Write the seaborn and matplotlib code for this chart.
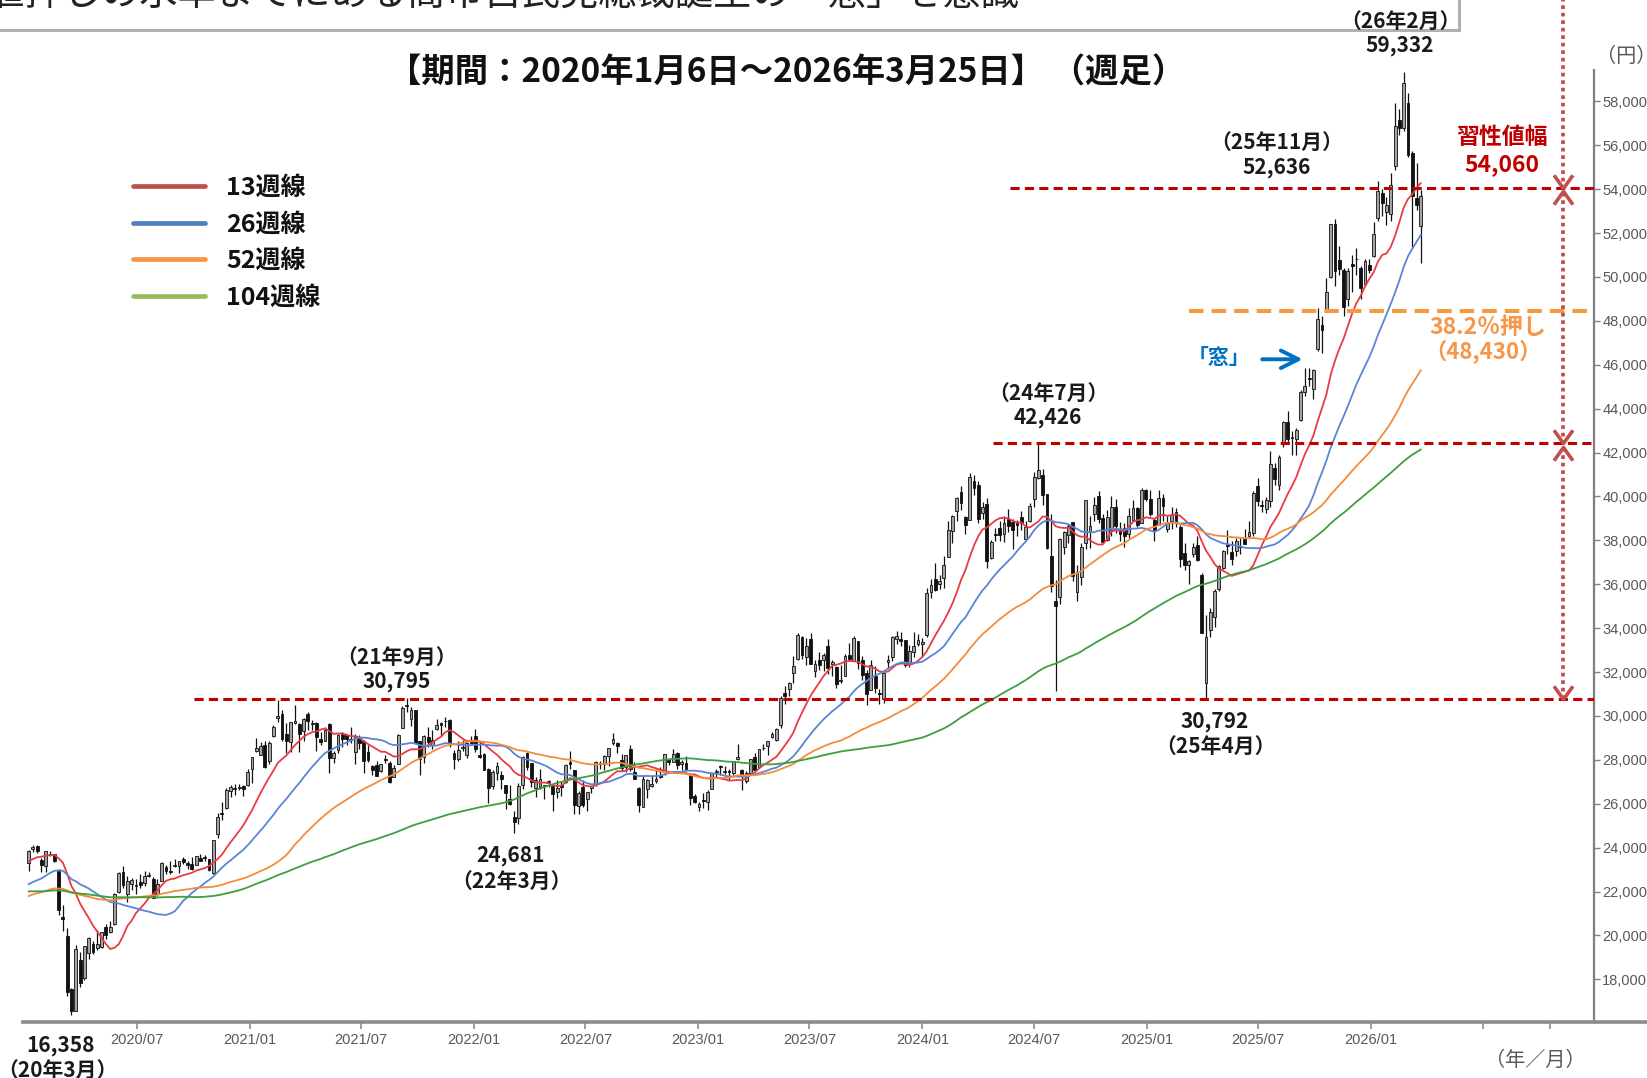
#weekly nikkei candles with 13/26/52/104 week moving averages and the hand-drawn levels

import pandas as pd
import matplotlib
matplotlib.use('Agg')
import matplotlib.pyplot as plt
import matplotlib.dates as mdates
from matplotlib.lines import Line2D
from matplotlib.patches import Rectangle
from matplotlib.path import Path
from matplotlib.ticker import FuncFormatter
import seaborn as sns

#~~~~~~~~~~~~~~~~~~~~~~~~~~~~~~~~~~~~~~~~~~~~~~~~~~~~~~~~~~~~~~~~~~~~~~~~~~~~~~~~~~~~~~~~~~~~
#data (thousand yen)
#weekly closes before the chart window, only used to warm up the moving averages
close_2018 = [23.71, 23.65, 23.81, 23.63, 23.10, 21.38, 21.72, 21.89, 21.18, 21.47, 21.68, 20.62, 21.45,
              21.57, 21.78, 22.16, 22.47, 22.47, 22.76, 22.93, 22.45, 22.17, 22.69, 22.85, 22.52, 22.30,
              21.79, 22.60, 22.70, 22.71, 22.53, 22.30, 22.27, 22.60, 22.87, 22.31, 23.09, 23.87, 24.12,
              23.78, 22.69, 22.53, 21.18, 22.24, 22.25, 21.68, 21.65, 22.35, 21.68, 21.37, 20.17, 20.01]
close_2019 = [19.56, 20.36, 20.67, 20.77, 20.79, 20.33, 20.90, 21.43, 21.60, 21.03, 21.45, 21.63, 21.21,
              21.81, 21.87, 22.20, 22.26, 21.34, 21.25, 21.12, 20.60, 20.88, 21.12, 21.26, 21.28, 21.75,
              21.69, 21.47, 21.66, 21.09, 20.68, 20.42, 20.71, 20.70, 21.20, 21.99, 22.08, 21.76, 21.41,
              21.80, 22.49, 22.80, 22.85, 23.33, 23.30, 23.11, 23.29, 23.35, 24.02, 23.82, 23.84, 23.66]

#weekly candles [open, high, low, close], first week starts 2020-01-06
first_week = '2020-01-06'
w2020 = [[23.32, 23.90, 22.95, 23.85], [23.95, 24.12, 23.82, 24.04], [24.08, 24.12, 23.75, 23.83], [23.44, 23.52, 22.89, 23.21],
         [23.16, 23.87, 22.89, 23.83], [23.68, 23.86, 23.62, 23.69], [23.69, 23.71, 23.33, 23.39], [22.94, 23.02, 20.92, 21.14],
         [20.85, 21.40, 20.22, 20.75], [19.96, 20.35, 17.22, 17.43], [17.56, 17.60, 16.36, 16.55], [16.57, 19.56, 16.55, 19.39],
         [18.88, 19.23, 17.65, 17.82], [18.07, 19.53, 17.98, 19.50], [19.22, 19.92, 18.91, 19.90], [19.61, 19.73, 19.14, 19.26],
         [19.41, 20.26, 19.36, 19.62], [19.47, 20.18, 19.45, 20.18], [20.37, 20.53, 19.82, 20.04], [20.16, 20.64, 20.11, 20.39],
         [20.50, 21.95, 20.49, 21.88], [22.00, 22.90, 21.95, 22.86], [22.89, 23.18, 22.17, 22.31], [21.87, 22.72, 21.53, 22.48],
         [22.36, 22.64, 22.06, 22.51], [22.26, 22.56, 21.91, 22.31], [22.45, 22.81, 22.14, 22.29], [22.40, 22.94, 22.27, 22.70],
         [22.73, 22.89, 22.65, 22.75], [22.59, 22.66, 21.71, 21.71], [21.90, 22.56, 21.82, 22.33], [22.50, 23.34, 22.49, 23.29],
         [23.12, 23.20, 22.81, 22.92], [22.94, 23.40, 22.80, 22.88], [23.18, 23.47, 23.10, 23.21], [23.16, 23.41, 22.85, 23.41],
         [23.49, 23.58, 23.25, 23.36], [23.32, 23.38, 23.04, 23.20], [23.27, 23.59, 22.97, 23.03], [23.21, 23.62, 23.19, 23.62],
         [23.55, 23.73, 23.38, 23.41], [23.53, 23.67, 23.40, 23.52], [23.50, 23.50, 22.95, 22.98], [22.83, 24.33, 22.82, 24.33],
         [24.61, 25.56, 24.42, 25.39], [25.55, 26.06, 25.27, 25.53], [25.79, 26.71, 25.78, 26.64], [26.59, 26.87, 26.29, 26.75],
         [26.73, 26.89, 26.38, 26.65], [26.71, 26.91, 26.62, 26.76], [26.79, 26.84, 26.35, 26.66], [26.85, 27.60, 26.80, 27.44]]
w2021 = [[27.58, 28.14, 26.95, 28.14], [28.41, 28.98, 28.34, 28.52], [28.24, 28.82, 28.21, 28.63], [28.66, 28.86, 27.63, 27.66],
         [27.93, 28.85, 27.82, 28.78], [29.11, 29.58, 29.03, 29.52], [29.92, 30.71, 29.71, 30.02], [30.08, 30.29, 28.88, 28.97],
         [29.16, 29.69, 28.31, 28.86], [28.82, 29.73, 28.38, 29.72], [29.69, 30.49, 29.64, 29.79], [29.63, 29.67, 28.38, 29.18],
         [29.30, 29.90, 28.86, 29.85], [30.09, 30.17, 29.37, 29.77], [29.63, 29.82, 29.37, 29.68], [29.70, 29.71, 28.42, 29.02],
         [28.93, 29.28, 28.67, 28.81], [28.88, 29.52, 28.85, 29.36], [29.62, 29.69, 27.39, 28.08], [28.08, 28.39, 27.84, 28.32],
         [28.44, 29.19, 28.32, 29.15], [29.20, 29.27, 28.60, 28.94], [29.12, 29.18, 28.69, 28.95], [28.91, 29.48, 28.75, 28.96],
         [28.37, 29.17, 27.80, 29.07], [29.02, 29.15, 28.50, 28.78], [28.88, 28.89, 27.42, 27.94], [28.37, 28.70, 27.92, 28.00],
         [27.73, 27.75, 27.33, 27.55], [27.78, 27.97, 27.27, 27.28], [27.47, 27.82, 27.45, 27.82], [28.02, 28.20, 27.84, 27.98],
         [27.87, 27.93, 26.95, 27.01], [27.24, 27.76, 27.20, 27.64], [27.81, 29.18, 27.79, 29.13], [29.45, 30.47, 29.45, 30.38],
         [30.47, 30.80, 30.16, 30.50], [29.84, 30.41, 29.55, 30.25], [30.26, 30.27, 28.77, 28.77], [28.88, 28.88, 27.29, 28.05],
         [28.14, 29.14, 27.87, 29.07], [29.03, 29.49, 28.60, 28.80], [28.66, 29.36, 28.51, 28.89], [29.39, 29.88, 29.36, 29.61],
         [29.69, 29.72, 29.10, 29.61], [29.75, 29.96, 29.49, 29.75], [29.83, 29.86, 28.60, 28.75], [28.32, 28.45, 27.59, 28.03],
         [28.05, 28.86, 27.93, 28.44], [28.55, 28.89, 28.41, 28.55], [28.23, 28.80, 28.10, 28.78], [28.84, 29.11, 28.73, 28.79]]
w2022 = [[29.10, 29.39, 28.34, 28.48], [28.22, 28.81, 28.08, 28.12], [28.26, 28.33, 27.52, 27.52], [27.58, 27.62, 26.04, 26.72],
         [26.79, 27.55, 26.69, 27.44], [27.40, 27.88, 27.08, 27.70], [27.33, 27.48, 26.66, 27.12], [26.86, 26.87, 25.78, 26.48],
         [26.21, 26.84, 25.94, 25.99], [25.39, 25.69, 24.68, 25.16], [25.34, 26.93, 25.06, 26.83], [26.84, 28.18, 26.68, 28.15],
         [28.33, 28.34, 27.55, 27.67], [27.85, 27.86, 26.76, 26.99], [26.71, 27.21, 26.30, 27.09], [26.78, 27.58, 26.69, 27.11],
         [26.81, 26.85, 26.21, 26.85], [27.00, 27.06, 26.76, 27.00], [26.80, 26.81, 25.69, 26.43], [26.55, 27.09, 26.25, 26.74],
         [26.86, 27.04, 26.34, 26.78], [26.98, 27.83, 26.96, 27.76], [27.92, 28.39, 27.60, 27.82], [27.56, 27.56, 25.52, 25.96],
         [25.92, 26.59, 25.52, 26.49], [26.76, 27.06, 25.86, 25.94], [26.20, 26.52, 25.66, 26.52], [26.74, 26.81, 26.48, 26.79],
         [26.95, 27.96, 26.80, 27.91], [27.82, 27.95, 27.58, 27.80], [27.83, 28.20, 27.53, 28.18], [28.17, 28.55, 27.74, 28.55],
         [28.75, 29.22, 28.66, 28.93], [28.79, 28.80, 28.30, 28.64], [27.99, 28.25, 27.51, 27.65], [27.68, 28.22, 27.43, 28.21],
         [28.50, 28.67, 27.51, 27.57], [27.43, 27.88, 27.15, 27.15], [26.74, 26.78, 25.62, 25.94], [25.86, 27.31, 25.86, 27.12],
         [26.66, 27.13, 26.24, 27.09], [26.82, 27.26, 26.76, 26.89], [27.03, 27.59, 26.93, 27.11], [27.32, 27.68, 27.16, 27.20],
         [27.43, 28.26, 27.33, 28.26], [28.05, 28.06, 27.76, 27.90], [27.88, 28.50, 27.88, 28.28], [28.29, 28.38, 27.58, 27.78],
         [27.81, 27.99, 27.55, 27.90], [27.85, 28.16, 27.50, 27.53], [27.31, 27.40, 25.96, 26.24], [26.37, 26.45, 26.05, 26.09]]
w2023 = [[25.84, 26.10, 25.66, 25.97], [26.18, 26.50, 25.80, 26.12], [26.07, 26.61, 25.72, 26.55], [26.69, 27.38, 26.69, 27.38],
         [27.43, 27.58, 27.20, 27.51], [27.73, 27.75, 27.31, 27.67], [27.43, 27.70, 27.37, 27.51], [27.47, 27.60, 27.10, 27.45],
         [27.38, 27.93, 27.33, 27.93], [28.05, 28.73, 27.98, 28.14], [27.55, 27.57, 26.63, 27.33], [27.05, 27.50, 26.95, 27.39],
         [27.41, 28.06, 27.29, 28.04], [28.15, 28.31, 27.43, 27.52], [27.69, 28.51, 27.64, 28.49], [28.52, 28.74, 28.44, 28.56],
         [28.63, 28.86, 28.24, 28.86], [29.03, 29.28, 29.00, 29.16], [28.90, 29.43, 28.88, 29.39], [29.58, 30.92, 29.44, 30.81],
         [31.05, 31.35, 30.56, 30.92], [31.25, 31.56, 30.89, 31.52], [31.95, 32.71, 31.49, 32.27], [32.60, 33.77, 32.55, 33.71],
         [33.60, 33.63, 32.58, 32.78], [32.70, 33.53, 32.31, 33.19], [33.52, 33.76, 32.39, 32.39], [32.04, 32.57, 31.79, 32.39],
         [32.56, 32.90, 32.08, 32.30], [32.56, 32.86, 32.05, 32.76], [33.20, 33.49, 31.93, 32.19], [32.37, 32.55, 31.83, 32.47],
         [32.22, 32.26, 31.28, 31.45], [31.60, 32.30, 31.52, 31.62], [31.82, 32.84, 31.80, 32.71], [32.79, 33.32, 32.49, 32.61],
         [32.49, 33.63, 32.49, 33.53], [33.40, 33.40, 32.16, 32.40], [32.56, 32.73, 31.63, 31.86], [31.97, 32.08, 30.49, 30.99],
         [31.20, 32.53, 31.20, 32.32], [31.81, 32.26, 31.06, 31.26], [31.04, 31.24, 30.55, 30.99], [30.77, 32.00, 30.61, 31.95],
         [32.45, 32.77, 32.17, 32.57], [32.69, 33.63, 32.49, 33.59], [33.49, 33.85, 33.27, 33.63], [33.52, 33.81, 33.21, 33.43],
         [33.46, 33.47, 32.21, 32.31], [32.40, 33.24, 32.21, 32.97], [32.90, 33.82, 32.70, 33.17], [33.27, 33.75, 33.20, 33.46]]
w2024 = [[33.29, 33.57, 32.69, 33.38], [33.70, 35.84, 33.60, 35.58], [35.63, 36.24, 35.37, 35.96], [36.22, 36.98, 35.71, 35.75],
         [36.00, 36.44, 35.80, 36.16], [36.30, 37.29, 35.85, 36.90], [37.25, 38.86, 37.22, 38.49], [38.44, 39.16, 37.88, 39.10],
         [39.34, 39.99, 38.88, 39.91], [40.20, 40.47, 39.37, 39.69], [39.07, 39.10, 38.27, 38.71], [38.94, 41.09, 38.93, 40.89],
         [40.69, 40.98, 40.08, 40.37], [40.52, 40.70, 38.77, 38.99], [39.24, 39.77, 38.99, 39.52], [39.67, 39.94, 36.73, 37.07],
         [37.18, 38.01, 37.17, 37.93], [38.29, 38.55, 37.95, 38.24], [38.56, 38.86, 37.96, 38.23], [38.28, 39.12, 37.93, 38.79],
         [38.96, 39.44, 38.37, 38.65], [38.83, 38.96, 37.62, 38.49], [38.84, 38.92, 38.22, 38.68], [39.07, 39.33, 38.45, 38.81],
         [38.05, 38.86, 38.01, 38.60], [38.89, 39.71, 38.83, 39.58], [39.89, 41.11, 39.51, 40.91], [40.84, 42.43, 40.80, 41.19],
         [41.00, 41.27, 39.60, 40.06], [40.09, 40.10, 37.61, 37.67], [37.31, 39.19, 35.66, 35.91], [35.25, 36.20, 31.16, 35.03],
         [35.40, 38.13, 35.09, 38.06], [37.72, 38.42, 37.38, 38.36], [38.25, 38.74, 37.88, 38.65], [38.83, 38.83, 36.17, 36.39],
         [35.63, 36.87, 35.25, 36.58], [36.35, 37.88, 35.95, 37.72], [37.88, 39.83, 37.61, 39.83], [38.40, 39.10, 37.65, 38.64],
         [39.18, 39.98, 38.90, 39.61], [40.00, 40.26, 38.80, 38.98], [39.00, 39.19, 37.91, 37.91], [38.00, 39.38, 37.95, 39.08],
         [38.47, 40.00, 38.18, 39.50], [39.51, 39.88, 38.32, 38.64], [38.45, 38.82, 37.96, 38.28], [38.56, 38.81, 37.68, 38.21],
         [38.30, 39.48, 38.10, 39.09], [38.95, 39.85, 38.90, 39.47], [39.46, 39.50, 38.60, 38.70], [38.80, 40.40, 38.78, 40.28],
         [40.30, 40.33, 39.79, 39.89]]
w2025 = [[39.88, 40.29, 39.10, 39.19], [38.95, 39.00, 37.97, 38.45], [38.72, 40.28, 38.68, 39.93], [39.95, 40.09, 38.90, 39.57],
         [38.52, 39.10, 38.40, 38.79], [38.90, 39.50, 38.50, 39.15], [39.27, 39.48, 38.60, 38.78], [38.60, 38.68, 36.80, 37.16],
         [37.41, 37.89, 36.64, 36.89], [36.88, 37.10, 35.99, 37.05], [37.36, 37.90, 37.25, 37.68], [37.80, 38.22, 37.05, 37.12],
         [36.40, 36.50, 33.78, 33.78], [31.50, 34.60, 30.79, 33.59], [33.90, 34.92, 33.62, 34.73], [34.50, 35.80, 34.05, 35.71],
         [35.80, 36.90, 35.70, 36.83], [36.75, 37.55, 36.70, 37.50], [37.80, 38.49, 37.39, 37.75], [37.48, 37.97, 36.86, 37.16],
         [37.53, 38.12, 37.29, 37.97], [37.70, 38.13, 37.37, 37.74], [38.05, 38.53, 37.82, 37.83], [38.20, 38.89, 38.16, 38.40],
         [38.35, 40.27, 38.20, 40.15], [40.47, 40.85, 39.57, 39.81], [39.60, 39.85, 39.30, 39.57], [39.45, 39.98, 39.26, 39.82],
         [39.80, 42.07, 39.54, 41.46], [41.30, 41.53, 40.50, 40.80], [40.50, 41.90, 40.30, 41.82], [42.40, 43.45, 42.25, 43.38],
         [43.40, 43.88, 42.40, 42.63], [42.65, 43.00, 41.88, 42.72], [42.60, 43.13, 41.90, 43.02], [43.50, 44.85, 43.45, 44.77],
         [44.75, 45.85, 44.60, 45.05], [45.40, 45.85, 45.05, 45.35], [44.90, 45.80, 44.42, 45.77], [46.70, 48.60, 46.65, 48.09],
         [47.80, 48.20, 46.54, 47.58], [48.50, 49.94, 48.40, 49.30], [50.00, 52.41, 49.95, 52.41], [52.40, 52.64, 49.60, 50.28],
         [50.76, 51.40, 50.10, 50.38], [50.30, 50.40, 48.23, 48.63], [49.00, 50.40, 48.70, 50.25], [50.60, 51.00, 49.30, 50.49],
         [50.80, 51.30, 50.10, 50.84], [50.40, 50.50, 49.00, 49.51], [49.70, 50.80, 49.60, 50.75], [50.55, 50.80, 50.20, 50.34]]
w2026 = [[50.95, 52.50, 50.90, 51.94], [52.68, 54.36, 52.55, 53.90], [53.82, 54.00, 52.80, 53.36], [52.96, 53.66, 52.36, 53.26],
         [52.86, 54.74, 52.56, 54.20], [55.04, 57.94, 54.86, 56.87], [57.16, 57.66, 56.46, 56.79], [56.79, 59.33, 56.66, 58.85],
         [57.93, 58.36, 55.46, 55.57], [55.65, 55.76, 51.38, 53.67], [53.59, 55.19, 53.06, 53.29], [52.30, 53.97, 50.62, 53.67]]

ma_weeks = [13, 26, 52, 104]
ma_labels = ['13週線', '26週線', '52週線', '104週線']
ma_line_colors = ['#ea3b45', '#5b84d6', '#f58b3c', '#3f9e3f']
legend_colors = ['#c0504d', '#4f81bd', '#f79646', '#9bbb59']

#hand drawn levels on the chart (yen)
high_2109 = 30795
low_2504 = 30792
high_2407 = 42426
high_2511 = 52636
high_2602 = 59332
low_2003 = 16358
low_2203 = 24681
habit_width = 54060
retrace_382 = 48430

#~~~~~~~~~~~~~~~~~~~~~~~~~~~~~~~~~~~~~~~~~~~~~~~~~~~~~~~~~~~~~~~~~~~~~~~~~~~~~~~~~~~~~~~~~~~~
#build frame + moving averages
df = pd.DataFrame(w2020 + w2021 + w2022 + w2023 + w2024 + w2025 + w2026,
                  columns=['open', 'high', 'low', 'close']) * 1000
df['date'] = pd.date_range(first_week, periods=len(df), freq='W-MON')
closes = pd.concat([pd.Series(close_2018 + close_2019) * 1000, df['close']], ignore_index=True)
for n, lab in zip(ma_weeks, ma_labels):
    df[lab] = closes.rolling(n).mean().iloc[-len(df):].to_numpy()
ma_long = df.melt(id_vars='date', value_vars=ma_labels, var_name='line', value_name='price')

#~~~~~~~~~~~~~~~~~~~~~~~~~~~~~~~~~~~~~~~~~~~~~~~~~~~~~~~~~~~~~~~~~~~~~~~~~~~~~~~~~~~~~~~~~~~~
sns.set_theme(style='white')
plt.rcParams['font.family'] = ['Noto Sans CJK JP', 'DejaVu Sans']

W, H = 1647, 1078
def fx(x):
    return x / W
def fy(y):
    return 1 - y / H

fig = plt.figure(figsize=(W / 100, H / 100), dpi=100)
ax = fig.add_axes([fx(23), fy(1021.5), fx(1594 - 23), (1021.5 - 70) / H])

#candles
up = df['close'] >= df['open']
ax.vlines(df['date'], df['low'], df['high'], color='#111111', lw=0.9, zorder=2)
for mask, face in [(up, '#a3a3a3'), (~up, '#111111')]:
    d = df[mask]
    body = (d['close'] - d['open']).abs().clip(lower=40)
    ax.bar(d['date'], body, bottom=d[['open', 'close']].min(axis=1), width=4.6,
           color=face, edgecolor='#111111', linewidth=0.6, zorder=3)

sns.lineplot(data=ma_long, x='date', y='price', hue='line', hue_order=ma_labels,
             palette=dict(zip(ma_labels, ma_line_colors)), linewidth=1.3, legend=False, ax=ax, zorder=4)
ax.set_xlabel('')
ax.set_ylabel('')

xmin, xmax = pd.Timestamp('2019-12-28'), pd.Timestamp('2026-12-30')
ax.set_xlim(xmin, xmax)
ax.set_ylim(16080, 59430)

#level lines
red = '#c00000'
ax.hlines(high_2109, pd.Timestamp('2020-10-01'), xmax, colors=red, linestyles=(0, (3, 1.7)), lw=2.2, zorder=5)
ax.hlines(high_2407, pd.Timestamp('2024-04-25'), xmax, colors=red, linestyles=(0, (3, 1.7)), lw=2.2, zorder=5)
ax.hlines(habit_width, pd.Timestamp('2024-05-22'), xmax, colors=red, linestyles=(0, (3, 1.7)), lw=2.2, zorder=5)
ax.hlines(retrace_382, pd.Timestamp('2025-03-11'), xmax, colors='#f79a3e', linestyles=(0, (3.6, 2)), lw=2.9, zorder=5)

#vertical dotted range with chevrons
xv = pd.Timestamp('2026-11-09')
ax.plot([xv, xv], [high_2109, 62700], ls=(0, (1, 1)), lw=2.7, color='#c0504d', clip_on=False, zorder=6)
chev_down = Path([(-1, 1.4), (0, 0), (1, 1.4)], [Path.MOVETO, Path.LINETO, Path.LINETO])
chev_up = Path([(-1, -1.4), (0, 0), (1, -1.4)], [Path.MOVETO, Path.LINETO, Path.LINETO])
ax.plot([xv] * 3, [habit_width, high_2407, high_2109], ls='none', marker=chev_down, ms=19, mew=2.6,
        mec='#c0504d', mfc='none', clip_on=False, zorder=7)
ax.plot([xv] * 2, [habit_width - 160, high_2407 - 160], ls='none', marker=chev_up, ms=19, mew=2.6,
        mec='#c0504d', mfc='none', clip_on=False, zorder=7)

#window arrow
ax.annotate('', xy=(pd.Timestamp('2025-09-16'), 46250), xytext=(pd.Timestamp('2025-07-03'), 46250),
            arrowprops=dict(arrowstyle='->,head_length=0.9,head_width=0.45', mutation_scale=14,
                            color='#0070c0', lw=2.8), zorder=7)

#axes styling
ax.set_xticks(pd.date_range('2020-07-01', '2026-01-01', freq='6MS'))
ax.xaxis.set_major_formatter(mdates.DateFormatter('%Y/%m'))
ax.set_xticks([pd.Timestamp('2026-07-03'), pd.Timestamp('2026-10-19')], minor=True)
ax.yaxis.tick_right()
ax.set_yticks(range(18000, 58001, 2000))
ax.yaxis.set_major_formatter(FuncFormatter(lambda v, p: f'{v:,.0f}'))
ax.tick_params(axis='x', which='both', bottom=True, direction='out', length=5, width=1.2, color='#8c8c8c',
               labelsize=10.5, labelcolor='#595959', pad=3, labelfontfamily='Liberation Sans')
ax.tick_params(axis='y', right=True, left=False, labelright=True, labelleft=False, direction='out', length=4,
               width=1, color='#7f7f7f', labelsize=10.5, labelcolor='#595959', pad=2, labelfontfamily='Liberation Sans')
ax.spines['top'].set_visible(False)
ax.spines['left'].set_visible(False)
ax.spines['right'].set_color('#7f7f7f')
ax.spines['right'].set_linewidth(1.6)
ax.spines['bottom'].set_color('#8c8c8c')
ax.spines['bottom'].set_linewidth(2.6)
ax.plot([1, 1.05], [0, 0], transform=ax.transAxes, color='#8c8c8c', lw=2.6, clip_on=False, solid_capstyle='butt')

#~~~~~~~~~~~~~~~~~~~~~~~~~~~~~~~~~~~~~~~~~~~~~~~~~~~~~~~~~~~~~~~~~~~~~~~~~~~~~~~~~~~~~~~~~~~~
#texts
fig.add_artist(Rectangle((fx(-10), fy(29.5)), fx(1459 + 10), 0.1, transform=fig.transFigure,
                         fill=False, edgecolor='#b0b0b0', lw=2.2, clip_on=False))
fig.text(fx(-52), fy(5), '半値押しの水準までにある高市自民党総裁誕生の「窓」を意識', fontsize=27.5,
         va='baseline', ha='left', color='#222222')
fig.text(fx(787), fy(73), '【期間：2020年1月6日～2026年3月25日】 （週足）', ha='center', va='center',
         fontsize=24, fontweight='bold', color='#111111')

for i, (lab, col) in enumerate(zip(ma_labels, legend_colors)):
    yy = 186 + 36.5 * i
    fig.add_artist(Line2D([fx(133), fx(205)], [fy(yy), fy(yy)], color=col, lw=3.4, transform=fig.transFigure))
    fig.text(fx(226), fy(yy + 2), lab, fontsize=18, fontweight='bold', va='center', ha='left', color='#111111')

def note(x, y, s, size=15, color='#1a1a1a'):
    fig.text(fx(x), fy(y), s, ha='center', va='center', fontsize=size, fontweight='bold', color=color)

note(1400, 21, '（26年2月）')
note(1400, 45, f'{high_2602:,}')
note(1277, 142, '（25年11月）')
note(1277, 167, f'{high_2511:,}')
note(1048, 393, '（24年7月）')
note(1048, 418, f'{high_2407:,}')
note(397, 657, '（21年9月）')
note(397, 681, f'{high_2109:,}')
note(511, 856, f'{low_2203:,}')
note(511, 881, '（22年3月）')
note(1215, 721, f'{low_2504:,}')
note(1215, 746, '（25年4月）')
note(61, 1046, f'{low_2003:,}')
note(57, 1070, '（20年3月）')
note(1502, 137, '習性値幅', size=16.5, color=red)
note(1502, 165, f'{habit_width:,}', size=16.5, color=red)
note(1488, 327, '38.2％押し', size=16.5, color='#f79646')
note(1483, 352, f'（{retrace_382:,}）', size=16, color='#f79646')
note(1219, 358, '「窓」', size=15, color='#0070c0')

fig.text(fx(1596), fy(57), '（円）', ha='left', va='center', fontsize=14.5, color='#595959')
fig.text(fx(1535), fy(1060), '（年／月）', ha='center', va='center', fontsize=14.5, color='#595959')

fig.savefig('out.png', dpi=100)
